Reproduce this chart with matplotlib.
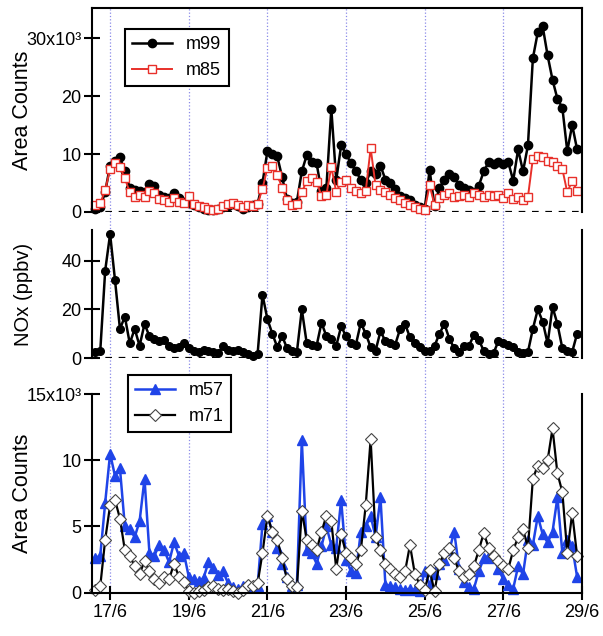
import numpy as np
import matplotlib
matplotlib.use('Agg')
import matplotlib.pyplot as plt
import matplotlib.transforms as transforms
from matplotlib.lines import Line2D

plt.rcParams['font.family'] = ['Liberation Sans', 'DejaVu Sans']

# samples every 3 h, x = day of June (16/6 15:00 .. 28/6 21:00)
hours = np.arange(99) * 3
day = 16.625 + hours / 24.0

# m99 / m85 (x10^3 area counts)
m99 = [0.6, 0.8, 3.5,
       8.0, 8.8, 9.4, 7.0, 4.2, 3.8, 3.6, 3.4,
       4.8, 4.4, 3.0, 2.6, 2.4, 3.2, 2.4, 1.8,
       1.5, 1.2, 0.9, 0.6, 0.4, 0.3, 0.5, 0.8,
       1.0, 1.3, 1.0, 0.6, 0.8, 1.2, 1.4, 5.0,
       10.5, 10.0, 9.6, 6.0, 2.2, 1.6, 1.8, 7.0,
       9.8, 8.6, 8.4, 3.6, 4.2, 17.8, 5.5, 11.5,
       10.0, 8.4, 7.0, 5.6, 5.0, 7.0, 6.5, 8.0,
       5.6, 5.0, 4.0, 2.8, 2.4, 2.0, 1.2, 0.8,
       0.6, 7.2, 1.0, 4.2, 5.6, 6.6, 6.0, 4.6,
       4.2, 3.8, 3.5, 4.5, 7.0, 8.6, 8.2, 8.6,
       8.2, 8.6, 5.4, 10.8, 7.0, 11.5, 26.5, 31.0,
       32.0, 27.0, 22.8, 19.5, 18.0, 10.5, 15.0, 10.8]
m85 = [1.2, 1.5, 3.8,
       7.4, 8.4, 7.8, 5.8, 3.4, 2.6, 3.0, 2.6,
       3.6, 3.2, 2.2, 2.0, 1.8, 2.4, 1.8, 1.6,
       2.8, 1.4, 1.0, 0.8, 0.5, 0.3, 0.6, 1.0,
       1.4, 1.6, 1.2, 0.8, 1.2, 1.0, 1.4, 4.0,
       7.6, 8.0, 6.4, 4.2, 2.0, 1.2, 1.4, 3.4,
       5.4, 5.8, 5.2, 2.8, 3.0, 7.8, 3.4, 5.2,
       5.6, 4.2, 3.6, 3.2, 3.6, 11.0, 4.6, 3.8,
       3.4, 3.0, 2.4, 2.0, 1.6, 1.2, 0.8, 0.6,
       0.4, 4.6, 1.2, 2.4, 3.0, 3.2, 2.6, 2.8,
       3.0, 2.6, 3.2, 3.0, 2.6, 3.0, 2.8, 3.0,
       2.4, 3.2, 2.2, 2.6, 2.0, 2.6, 9.2, 9.6,
       9.4, 8.8, 8.6, 8.0, 7.4, 3.4, 5.4, 3.6]

# NOx (ppbv)
nox = [2.5, 3.0, 36,
       51, 32, 12, 17, 6, 12, 5, 14,
       9, 8, 7, 7.5, 5, 4, 4.5, 6,
       4, 3, 2.5, 3.5, 3, 2.5, 2, 5,
       3.5, 3, 3.5, 2.5, 1.5, 1, 1.5, 26,
       16, 10, 4.5, 9, 4, 3, 2.5, 20,
       6, 5.5, 5, 14.5, 9, 8, 5, 13,
       9, 6, 5.5, 14.5, 10, 4.5, 3, 11,
       7, 6, 5.5, 12, 14, 8.5, 6, 4.5,
       3, 3, 5, 10, 14, 8, 4, 2.5,
       5, 5, 9.5, 7.5, 3, 1.5, 2, 7,
       6, 5.5, 4.5, 2.5, 2, 2.5, 12, 20,
       15, 6, 21, 14, 4, 3, 2.5, 10]

# m57 / m71 (x10^3 area counts)
m57 = [2.6, 2.8, 6.8,
       10.5, 8.8, 9.4, 5.0, 4.8, 4.2, 5.4, 8.6,
       3.0, 2.8, 3.6, 3.2, 2.3, 3.8, 2.8, 3.0,
       1.2, 1.0, 0.9, 1.1, 2.3, 1.9, 1.3, 1.6,
       0.7, 0.4, 0.3, 0.5, 0.6, 0.4, 0.5, 5.2,
       5.8, 4.6, 3.4, 2.2, 1.2, 0.5, 0.6, 11.5,
       3.2, 3.0, 2.2, 3.5, 5.0, 3.6, 3.4, 7.0,
       2.5, 1.6, 1.5, 4.6, 5.0, 5.8, 4.2, 7.2,
       0.6, 0.5, 0.4, 0.3, 0.2, 0.3, 0.2, 0.1,
       1.6, 0.6, 1.4, 2.2, 2.5, 3.2, 4.6, 1.8,
       0.8, 0.4, 0.3, 1.6, 2.6, 2.8, 2.6, 1.8,
       1.0, 0.6, 0.3, 2.0, 1.4, 4.0, 3.6, 5.8,
       4.4, 3.8, 4.6, 7.2, 3.0, 4.0, 3.5, 1.2]
m71 = [0.2, 0.5, 4.0,
       6.6, 7.0, 5.6, 3.2, 2.8, 2.0, 1.4, 2.4,
       1.6, 1.0, 0.7, 1.2, 1.0, 2.2, 1.2, 0.8,
       0.1, 0.0, 0.1, 0.2, 0.4, 0.5, 0.3, 0.2,
       0.3, 0.1, 0.0, 0.2, 0.6, 0.5, 0.7, 3.0,
       5.8, 4.6, 4.0, 2.6, 1.0, 0.5, 0.4, 6.2,
       4.0, 3.6, 3.2, 4.6, 5.8, 5.4, 1.8, 4.4,
       3.0, 2.6, 2.2, 3.2, 6.6, 11.6, 4.2, 3.2,
       2.2, 1.8, 1.4, 1.2, 1.6, 3.6, 1.4, 0.6,
       0.2, 1.7, 0.1, 2.2, 3.0, 3.4, 2.6, 1.6,
       1.2, 1.4, 2.0, 3.2, 4.5, 3.4, 2.8, 2.4,
       2.0, 1.8, 3.2, 4.2, 4.8, 3.4, 8.6, 9.6,
       9.4, 10.0, 12.4, 9.0, 7.6, 3.0, 6.0, 2.8]

xticks = [17, 19, 21, 23, 25, 27, 29]
xticklabels = ['17/6', '19/6', '21/6', '23/6', '25/6', '27/6', '29/6']

red = '#e8302a'
blue = '#1f44e8'

fig = plt.figure(figsize=(6.03, 6.36), dpi=100)
ax1 = fig.add_axes([0.1526, 0.6667, 0.8126, 0.3208])
ax2 = fig.add_axes([0.1526, 0.4371, 0.8126, 0.2013])
ax3 = fig.add_axes([0.1526, 0.0681, 0.8126, 0.3124])

for ax in (ax1, ax2, ax3):
    ax.set_facecolor('none')
    ax.set_xlim(16.54, 29.0)
    for s in ax.spines.values():
        s.set_linewidth(1.5)
    ax.tick_params(axis='y', direction='inout', length=11, width=1.5,
                   labelsize=13, pad=2)
    ax.yaxis.set_label_coords(-0.12, 0.5)

# top panel
ax1.plot(day, m99, '-o', color='k', ms=6, lw=1.8, clip_on=False, label='m99')
ax1.plot(day, m85, '-s', color=red, mfc='white', mec=red, ms=6, mew=1,
         lw=1.4, clip_on=False, label='m85')
ax1.axhline(0, color='k', lw=1.6, ls=(0, (3, 3)), zorder=0)
ax1.set_ylim(0, 35.2)
ax1.set_yticks([0, 10, 20, 30])
ax1.set_yticklabels(['0', '10', '20', '30x10³'])
ax1.spines['bottom'].set_visible(False)
ax1.tick_params(axis='x', bottom=False, labelbottom=False)
ax1.set_ylabel('Area Counts', fontsize=15.5)
leg = ax1.legend(loc='upper left', bbox_to_anchor=(0.067, 0.897), borderaxespad=0,
                 fancybox=False, edgecolor='k', framealpha=1, fontsize=13,
                 handlelength=2.2)
leg.get_frame().set_linewidth(1.5)

# middle panel
ax2.plot(day, nox, '-o', color='k', ms=5.5, lw=1.8, clip_on=False)
ax2.axhline(0, color='k', lw=1.6, ls=(0, (3, 3)), zorder=0)
ax2.set_ylim(0, 52.7)
ax2.set_yticks([0, 20, 40])
ax2.spines['top'].set_visible(False)
ax2.spines['bottom'].set_visible(False)
ax2.tick_params(axis='x', bottom=False, labelbottom=False)
ax2.set_ylabel('NOx (ppbv)', fontsize=14.5)

# bottom panel
ax3.plot(day, m57, '-^', color=blue, ms=6.5, lw=1.8, clip_on=False, label='m57')
ax3.plot(day, m71, '-D', color='k', mfc='white', mec='#444444', ms=6, mew=0.8,
         lw=1.6, clip_on=False, label='m71')
ax3.set_ylim(0, 15)
ax3.set_yticks([0, 5, 10, 15])
ax3.set_yticklabels(['0', '5', '10', '15x10³'])
ax3.spines['top'].set_visible(False)
ax3.set_xticks(xticks)
ax3.set_xticklabels(xticklabels)
ax3.tick_params(axis='x', direction='inout', length=10, width=1.5,
                labelsize=13, pad=3)
ax3.set_ylabel('Area Counts', fontsize=15.5)
leg = ax3.legend(loc='upper left', bbox_to_anchor=(0.073, 1.096), borderaxespad=0,
                 fancybox=False, edgecolor='k', framealpha=1, fontsize=13,
                 handlelength=2.2)
leg.get_frame().set_linewidth(1.5)

# dotted day guides through all three panels
trans = transforms.blended_transform_factory(ax3.transData, fig.transFigure)
for d in xticks[:-1]:
    fig.add_artist(Line2D([d, d], [0.0681, 0.9874], transform=trans, ls=':',
                          color='#8a8ae8', lw=0.9, zorder=-1))

fig.savefig('out.png', dpi=100)
